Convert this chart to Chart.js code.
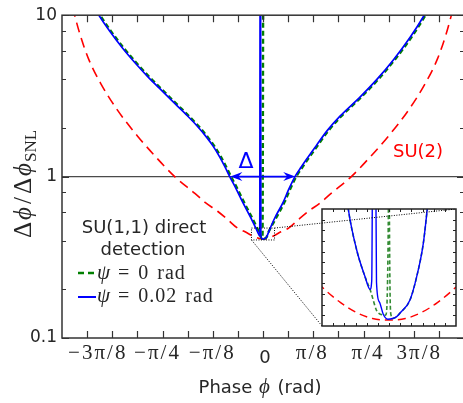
<!DOCTYPE html>
<html>
<head>
<meta charset="utf-8">
<script src="https://cdn.jsdelivr.net/npm/chart.js@4.4.1/dist/chart.umd.min.js"></script>
<style>
    html, body { margin: 0; padding: 0; background: #fff; overflow: hidden; }
    #wrap { position: relative; width: 463px; height: 403px; overflow: hidden; }
    #mainChart { position: absolute; left: 0; top: 0; }
    #insetChart { position: absolute; left: 320px; top: 205px; }
</style>
</head>
<body>
<div id="wrap">
    <canvas id="mainChart" width="466" height="403"></canvas>
    <canvas id="insetChart" width="140" height="125"></canvas>
</div>
<script>
// ====================================
// SU(1,1) vs SU(2) PHASE SENSITIVITY
// ====================================

// ---- Axis ticks ----
const xTickValues = [-7, -6, -5, -4, -3, -2, -1, 0, 1, 2, 3, 4, 5, 6, 7].map(k => k * Math.PI / 16);
const xTickLabels = ['', '−3π/8', '', '−π/4', '', '−π/8', '', '0', '', 'π/8', '', 'π/4', '', '3π/8', ''];
const xLabelShift = [0, -15.5, 0, -6, 0, -1.5, 0, 2, 0, -2, 0, 3.5, 0, 4.5, 0];
const yTickValues = [0.1, 1, 10];
const yTickLabels = ['0.1', '1', '10'];
const yMinorTicks = [0.2, 0.4, 0.6, 0.8, 2, 4, 6, 8];

// ---- SU(2) reference (red dashed) ----
const phiSU2 = [-1.52, -1.475, -1.43, -1.365, -1.27, -1.14, -0.98, -0.84, -0.69, -0.535, -0.45, -0.355, -0.28, -0.2, -0.14, -0.07, 0,
                0.07, 0.14, 0.2, 0.28, 0.355, 0.45, 0.535, 0.69, 0.84, 0.98, 1.14, 1.27, 1.365, 1.43, 1.475, 1.52];
const su2 = [14, 10.2, 7.6, 5.4, 3.8, 2.6, 1.78, 1.33, 1.0, 0.79, 0.69, 0.61, 0.545, 0.48, 0.455, 0.425, 0.41,
             0.425, 0.455, 0.48, 0.545, 0.61, 0.69, 0.79, 1.0, 1.33, 1.78, 2.6, 3.8, 5.4, 7.6, 10.2, 14];

// ---- SU(1,1) direct detection, psi = 0 rad (green dashed) ----
const phiPsi0 = [-1.33, -1.29, -1.19, -1.09, -0.98, -0.88, -0.80, -0.67, -0.59, -0.51, -0.43, -0.38, -0.33, -0.29, -0.25, -0.20,
                 -0.145, -0.09, -0.045, -0.025, -0.015, -0.004, 0.003, 0.0031, 0.008, 0.015, 0.028,
                 0.046, 0.10, 0.17, 0.21, 0.26, 0.31, 0.35, 0.43, 0.51, 0.61, 0.77, 0.90, 1.03, 1.16, 1.27, 1.31];
const psi0 = [11.9, 10.5, 8.0, 6.29, 4.97, 4.08, 3.53, 2.79, 2.42, 2.08, 1.75, 1.545, 1.33, 1.16, 1.0, 0.84,
              0.685, 0.565, 0.478, 0.437, 0.42, 0.412, 80, null, 0.411, 0.4133, 0.422,
              0.458, 0.55, 0.70, 0.83, 1.0, 1.15, 1.28, 1.57, 1.92, 2.36, 3.12, 4.0, 5.3, 7.3, 10.0, 11.4];

// ---- SU(1,1) direct detection, psi = 0.02 rad (blue solid) ----
const phiPsi002 = [-1.34, -1.30, -1.20, -1.10, -0.99, -0.89, -0.81, -0.68, -0.60, -0.52, -0.44, -0.39, -0.34, -0.30, -0.26, -0.21,
                   -0.155, -0.10, -0.055, -0.032, -0.0255, -0.0215, -0.0195, -0.0168, -0.008, 0, 0.015, 0.028, 0.046, 0.09,
                   0.16, 0.20, 0.25, 0.30, 0.34, 0.42, 0.50, 0.60, 0.76, 0.89, 1.02, 1.15, 1.26, 1.30];
const psi002 = [11.9, 10.5, 8.0, 6.29, 4.97, 4.08, 3.53, 2.79, 2.42, 2.08, 1.75, 1.545, 1.33, 1.16, 1.0, 0.84,
                0.685, 0.565, 0.478, 0.437, 0.4285, 60, 60, 0.433, 0.4125, 0.4095, 0.4133, 0.422, 0.458, 0.55,
                0.70, 0.83, 1.0, 1.15, 1.28, 1.57, 1.92, 2.36, 3.12, 4.0, 5.3, 7.3, 10.0, 11.4];

// ---- Inset (zoom around the minimum) ----
const insetXRange = [-0.09, 0.09];
const insetYRange = [0.405, 0.48];
const insetXTicks = [-0.075, -0.06, -0.045, -0.03, -0.015, 0, 0.015, 0.03, 0.045, 0.06, 0.075];
const insetYTicks = [0.4118, 0.4186, 0.4255, 0.4323, 0.4391, 0.4459, 0.4527, 0.4595, 0.4664, 0.4732];

const insetPhiSU2 = [-0.095, -0.09, -0.065, -0.043, -0.022, 0, 0.022, 0.043, 0.065, 0.09, 0.095];
const insetSU2 = [0.4325, 0.430, 0.420, 0.4135, 0.4098, 0.4088, 0.4098, 0.4135, 0.420, 0.430, 0.4325];

const insetPhiPsi0 = [-0.062, -0.0547, -0.0434, -0.0322, -0.0255, -0.0148, -0.0044, -0.0008, 0, 0.0005, 0.0027, 0.0058,
                      0.0103, 0.0148, 0.0282, 0.0372, 0.0461, 0.0514, 0.058];
const insetPsi0 = [0.51, 0.48, 0.4537, 0.4366, 0.4285, 0.4135, 0.412, 0.48, 0.7, 0.48, 0.412, 0.4099,
                   0.411, 0.4133, 0.4217, 0.4366, 0.458, 0.48, 0.51];

const insetPhiPsi002 = [-0.062, -0.0547, -0.0434, -0.0322, -0.0255, -0.0232, -0.0215, -0.0185, -0.0168, -0.013, -0.0077,
                        -0.0015, 0.0048, 0.0103, 0.0148, 0.0282, 0.0372, 0.0461, 0.0514, 0.058];
const insetPsi002 = [0.51, 0.48, 0.4537, 0.4366, 0.4285, 0.434, 0.55, 0.55, 0.433, 0.4205, 0.4125,
                     0.4093, 0.4098, 0.411, 0.4133, 0.4217, 0.4366, 0.458, 0.48, 0.51];

// ---- Annotations ----
const deltaEnds = [-0.255, 0.252];

// ---- Styles ----
const BLUE = '#0000ff';
const GREEN = '#007f00';
const RED = '#ff0000';
const TEXT = '#262626';
const AXIS = '#333333';
const SERIF = '"Liberation Serif", "DejaVu Serif", serif';
const SANS = '"DejaVu Sans", sans-serif';

// ---- Helpers ----
function toPoints(xs, ys) {
    return xs.map((x, i) => ({ x: x, y: ys[i] }));
}

function drawRun(ctx, parts, x, y, align, spacing) {
    ctx.textAlign = 'left';
    ctx.textBaseline = 'alphabetic';
    ctx.letterSpacing = spacing || '0px';
    let total = 0;
    parts.forEach(p => {
        ctx.font = p.font;
        p.w = ctx.measureText(p.t).width;
        total += p.w + (p.gap || 0);
    });
    let cx = align === 'center' ? x - total / 2 : x;
    parts.forEach(p => {
        ctx.font = p.font;
        ctx.fillText(p.t, cx, y + (p.dy || 0));
        cx += p.w + (p.gap || 0);
    });
    ctx.letterSpacing = '0px';
}

// ---- Main chart decorations ----
const mainDecor = {
    id: 'mainDecor',
    beforeDatasetsDraw(chart) {
        const { ctx, chartArea: a, scales: { y } } = chart;
        const py = y.getPixelForValue(1);
        ctx.save();
        ctx.strokeStyle = '#4a4a4a';
        ctx.lineWidth = 1.3;
        ctx.beginPath();
        ctx.moveTo(a.left, py);
        ctx.lineTo(a.right, py);
        ctx.stroke();
        ctx.restore();
    },
    afterDatasetsDraw(chart) {
        const { ctx, chartArea: a, scales: { x, y } } = chart;
        ctx.save();

        // frame + inward ticks
        ctx.strokeStyle = AXIS;
        ctx.lineWidth = 1.2;
        ctx.beginPath();
        xTickValues.forEach(v => {
            const px = Math.round(x.getPixelForValue(v)) + 0.5;
            ctx.moveTo(px, a.bottom); ctx.lineTo(px, a.bottom - 7);
            ctx.moveTo(px, a.top); ctx.lineTo(px, a.top + 7);
        });
        yMinorTicks.forEach(v => {
            const py = Math.round(y.getPixelForValue(v)) + 0.5;
            ctx.moveTo(a.left, py); ctx.lineTo(a.left + 4, py);
            ctx.moveTo(a.right, py); ctx.lineTo(a.right - 4, py);
        });
        yTickValues.forEach(v => {
            const py = Math.round(y.getPixelForValue(v)) + 0.5;
            ctx.moveTo(a.left, py); ctx.lineTo(a.left + 7, py);
            ctx.moveTo(a.right, py); ctx.lineTo(a.right - 7, py);
        });
        ctx.stroke();
        ctx.lineWidth = 1.5;
        ctx.strokeRect(a.left, a.top, a.right - a.left, a.bottom - a.top);

        // Delta double arrow at y = 1
        const ya = y.getPixelForValue(1);
        const xa = x.getPixelForValue(deltaEnds[0]);
        const xb = x.getPixelForValue(deltaEnds[1]);
        ctx.strokeStyle = BLUE;
        ctx.fillStyle = BLUE;
        ctx.lineWidth = 1.7;
        ctx.beginPath();
        ctx.moveTo(xa + 4, ya); ctx.lineTo(xb - 4, ya);
        ctx.stroke();
        [[xa, 1], [xb, -1]].forEach(([tip, d]) => {
            ctx.beginPath();
            ctx.moveTo(tip, ya);
            ctx.lineTo(tip + d * 12, ya - 4.5);
            ctx.lineTo(tip + d * 8, ya);
            ctx.lineTo(tip + d * 12, ya + 4.5);
            ctx.closePath();
            ctx.fill();
        });
        ctx.font = '22px ' + SANS;
        ctx.textAlign = 'center';
        ctx.textBaseline = 'alphabetic';
        ctx.fillText('Δ', 246, 168);

        // SU(2) label
        ctx.fillStyle = RED;
        ctx.font = '18px ' + SANS;
        ctx.fillText('SU(2)', 418, 157);

        // legend
        ctx.fillStyle = TEXT;
        ctx.fillText('SU(1,1) direct', 144, 233);
        ctx.fillText('detection', 143, 255);
        ctx.lineWidth = 2.4;
        ctx.strokeStyle = GREEN;
        ctx.setLineDash([6, 4]);
        ctx.beginPath(); ctx.moveTo(78, 273); ctx.lineTo(96, 273); ctx.stroke();
        ctx.setLineDash([]);
        ctx.strokeStyle = BLUE;
        ctx.lineWidth = 2;
        ctx.beginPath(); ctx.moveTo(78, 297); ctx.lineTo(96, 297); ctx.stroke();
        ctx.fillStyle = TEXT;
        const mf = '20px ' + SERIF;
        const mi = 'italic 21px ' + SERIF;
        drawRun(ctx, [{ t: 'ψ', font: mi, gap: 7 }, { t: '=', font: mf, gap: 8 }, { t: '0', font: mf, gap: 8 }, { t: 'rad', font: mf }], 97, 279, 'left', '1px');
        drawRun(ctx, [{ t: 'ψ', font: mi, gap: 7 }, { t: '=', font: mf, gap: 8 }, { t: '0.02', font: mf, gap: 8 }, { t: 'rad', font: mf }], 97, 302, 'left', '1px');

        // zoom rectangle + connectors to the inset
        const rx0 = x.getPixelForValue(insetXRange[0]);
        const rx1 = x.getPixelForValue(insetXRange[1]);
        const ry0 = y.getPixelForValue(insetYRange[0]);
        const ry1 = y.getPixelForValue(insetYRange[1]);
        ctx.strokeStyle = '#000';
        ctx.lineWidth = 1;
        ctx.setLineDash([1, 1.5]);
        ctx.strokeRect(rx0, ry1, rx1 - rx0, ry0 - ry1);
        ctx.beginPath();
        ctx.moveTo(rx0, ry0); ctx.lineTo(322, 326);
        ctx.moveTo(rx1, ry1); ctx.lineTo(456, 209);
        ctx.stroke();
        ctx.setLineDash([]);
        ctx.restore();
    },
    afterDraw(chart) {
        const { ctx, scales: { x } } = chart;
        ctx.save();
        ctx.fillStyle = TEXT;

        // x tick labels
        ctx.textAlign = 'center';
        ctx.textBaseline = 'alphabetic';
        xTickLabels.forEach((lab, i) => {
            if (!lab) return;
            const px = x.getPixelForValue(xTickValues[i]) + xLabelShift[i];
            if (lab === '0') {
                ctx.letterSpacing = '0px';
                ctx.font = '18px ' + SANS;
                ctx.fillText(lab, px, 363);
            } else {
                ctx.letterSpacing = '2px';
                ctx.font = '21px ' + SERIF;
                ctx.fillText(lab, px + 1, 359);
            }
        });
        ctx.letterSpacing = '0px';

        // x title
        drawRun(ctx, [
            { t: 'Phase ', font: '18px ' + SANS, gap: 1 },
            { t: 'ϕ', font: 'italic 21px ' + SERIF, gap: 2 },
            { t: ' (rad)', font: '18px ' + SANS }
        ], 260, 393, 'center');

        // y title (rotated)
        ctx.translate(31, 184);
        ctx.rotate(-Math.PI / 2);
        const f = '25px ' + SERIF;
        const fi = 'italic 25px ' + SERIF;
        drawRun(ctx, [
            { t: 'Δ', font: f, gap: 2 },
            { t: 'ϕ', font: fi, gap: 3 },
            { t: '/', font: f, gap: 3 },
            { t: 'Δ', font: f, gap: 2 },
            { t: 'ϕ', font: fi, gap: 1 },
            { t: 'SNL', font: '17px ' + SERIF, dy: 5 }
        ], 0, 0, 'center');
        ctx.restore();
    }
};

// ---- Main chart ----
const mainChart = new Chart(document.getElementById('mainChart'), {
    type: 'line',
    data: {
        datasets: [
            { label: 'ψ = 0.02 rad', data: toPoints(phiPsi002, psi002), borderColor: BLUE, borderWidth: 1.7, order: 0 },
            { label: 'ψ = 0 rad', data: toPoints(phiPsi0, psi0), borderColor: GREEN, borderWidth: 2.4, borderDash: [5, 3], order: 1 },
            { label: 'SU(2)', data: toPoints(phiSU2, su2), borderColor: RED, borderWidth: 1.6, borderDash: [10, 6], order: 2 }
        ]
    },
    options: {
        responsive: false,
        animation: false,
        spanGaps: false,
        layout: { padding: { top: 15, right: 2, left: 0, bottom: 0 } },
        elements: {
            point: { radius: 0, hoverRadius: 0 },
            line: { cubicInterpolationMode: 'monotone', fill: false }
        },
        plugins: { legend: { display: false }, tooltip: { enabled: false } },
        scales: {
            x: {
                type: 'linear',
                min: -Math.PI / 2,
                max: Math.PI / 2,
                afterBuildTicks: s => { s.ticks = xTickValues.map(v => ({ value: v })); },
                afterFit: s => { s.height = 65; },
                grid: { display: false, drawTicks: false },
                border: { display: false },
                ticks: { display: false }
            },
            y: {
                type: 'logarithmic',
                min: 0.1,
                max: 10,
                afterBuildTicks: s => { s.ticks = yTickValues.map(v => ({ value: v })); },
                afterFit: s => { s.width = 62; },
                grid: { display: false, drawTicks: false },
                border: { display: false },
                ticks: {
                    padding: 5,
                    color: TEXT,
                    font: { family: SANS, size: 17 },
                    callback: (v, i) => yTickLabels[i]
                }
            }
        }
    },
    plugins: [mainDecor]
});

// ---- Inset decorations ----
const insetDecor = {
    id: 'insetDecor',
    beforeDraw(chart) {
        const { ctx, chartArea: a } = chart;
        ctx.save();
        ctx.fillStyle = '#fff';
        ctx.fillRect(a.left, a.top, a.right - a.left, a.bottom - a.top);
        ctx.restore();
    },
    afterDraw(chart) {
        const { ctx, chartArea: a, scales: { x, y } } = chart;
        ctx.save();
        ctx.strokeStyle = '#222';
        ctx.lineWidth = 1;
        ctx.beginPath();
        insetXTicks.forEach(v => {
            const px = Math.round(x.getPixelForValue(v)) + 0.5;
            ctx.moveTo(px, a.bottom); ctx.lineTo(px, a.bottom - 3);
            ctx.moveTo(px, a.top); ctx.lineTo(px, a.top + 3);
        });
        insetYTicks.forEach(v => {
            const py = Math.round(y.getPixelForValue(v)) + 0.5;
            ctx.moveTo(a.left, py); ctx.lineTo(a.left + 3, py);
            ctx.moveTo(a.right, py); ctx.lineTo(a.right - 3, py);
        });
        ctx.stroke();
        ctx.lineWidth = 1.5;
        ctx.strokeRect(a.left, a.top, a.right - a.left, a.bottom - a.top);

        // connector continues over the inset
        const mx = mainChart.scales.x, my = mainChart.scales.y;
        const ox = 320, oy = 205;
        ctx.beginPath();
        ctx.rect(a.left, a.top, a.right - a.left, a.bottom - a.top);
        ctx.clip();
        ctx.strokeStyle = '#000';
        ctx.lineWidth = 1;
        ctx.setLineDash([1, 1.5]);
        ctx.beginPath();
        ctx.moveTo(mx.getPixelForValue(insetXRange[1]) - ox, my.getPixelForValue(insetYRange[1]) - oy);
        ctx.lineTo(456 - ox, 209 - oy);
        ctx.stroke();
        ctx.restore();
    }
};

// ---- Inset chart ----
const insetChart = new Chart(document.getElementById('insetChart'), {
    type: 'line',
    data: {
        datasets: [
            { data: toPoints(insetPhiPsi002, insetPsi002), borderColor: BLUE, borderWidth: 1.4, order: 0 },
            { data: toPoints(insetPhiPsi0, insetPsi0), borderColor: 'rgba(0,110,0,0.8)', borderWidth: 1.6, borderDash: [4, 2.5], order: 1 },
            { data: toPoints(insetPhiSU2, insetSU2), borderColor: RED, borderWidth: 1.4, borderDash: [8, 5], order: 2 }
        ]
    },
    options: {
        responsive: false,
        animation: false,
        layout: { padding: { left: 2, top: 4, right: 4, bottom: 4 } },
        elements: {
            point: { radius: 0, hoverRadius: 0 },
            line: { cubicInterpolationMode: 'monotone', fill: false }
        },
        plugins: { legend: { display: false }, tooltip: { enabled: false } },
        scales: {
            x: { type: 'linear', display: false, min: insetXRange[0], max: insetXRange[1] },
            y: { type: 'linear', display: false, min: insetYRange[0], max: insetYRange[1] }
        }
    },
    plugins: [insetDecor]
});
</script>
</body>
</html>
